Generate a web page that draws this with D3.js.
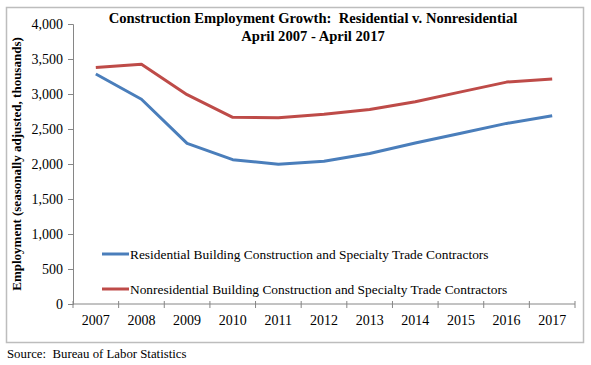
<!DOCTYPE html>
<html><head><meta charset="utf-8">
<script src="https://cdn.jsdelivr.net/npm/d3@7"></script>
<style>body{margin:0;background:#fff}svg{display:block}text{font-family:"Liberation Serif","Times New Roman",serif}</style>
</head><body><svg id="c" width="591" height="365"></svg>
<script>
const years = ["2007","2008","2009","2010","2011","2012","2013","2014","2015","2016","2017"];
const residential = [3285, 2925, 2295, 2062, 1995, 2040, 2150, 2300, 2440, 2580, 2690];
const nonresidential = [3380, 3425, 2990, 2667, 2660, 2710, 2780, 2890, 3030, 3170, 3215];
const yTicks = [0, 500, 1000, 1500, 2000, 2500, 3000, 3500, 4000];
const seriesNames = ["Residential Building Construction and Specialty Trade Contractors",
                     "Nonresidential Building Construction and Specialty Trade Contractors"];
const colors = ["#4a7ebb", "#be4b48"];

const svg = d3.select("#c");
svg.append("rect").attr("x",6.5).attr("y",7.5).attr("width",577).attr("height",335)
  .attr("fill","#fff").attr("stroke","#bdbdbd").attr("stroke-width",1.5);

const L=73, R=575, T=24, B=304;
const x = d3.scaleBand().domain(years).range([L,R]);
const y = d3.scaleLinear().domain([0,4000]).range([B,T]);

// y axis
const ya = svg.append("g").attr("transform",`translate(${L},0)`)
  .call(d3.axisLeft(y).tickValues(yTicks).tickFormat(d3.format(",")).tickSize(5).tickPadding(5));
ya.select(".domain").attr("stroke","#868686");
ya.selectAll(".tick line").attr("stroke","#868686");
ya.selectAll("text").attr("font-size",14).attr("fill","#000");

// x axis
const xa = svg.append("g").attr("transform",`translate(0,${B})`);
xa.append("line").attr("x1",L).attr("x2",R).attr("y1",0).attr("y2",0).attr("stroke","#868686");
const bounds = years.map(d=>x(d)).concat([R]);
xa.selectAll(".tk").data(bounds).enter().append("line")
  .attr("x1",d=>d).attr("x2",d=>d).attr("y1",-3).attr("y2",4).attr("stroke","#868686");
xa.selectAll(".lb").data(years).enter().append("text")
  .attr("x",d=>x(d)+x.bandwidth()/2).attr("y",21).attr("text-anchor","middle")
  .attr("font-size",14).text(d=>d);

// lines
const line = d3.line().x((d,i)=>x(years[i])+x.bandwidth()/2).y(d=>y(d));
[residential, nonresidential].forEach((s,i)=>{
  svg.append("path").datum(s).attr("d",line).attr("fill","none")
    .attr("stroke",colors[i]).attr("stroke-width",3).attr("stroke-linejoin","round");
});

// legend
const legY=[254,289];
seriesNames.forEach((n,i)=>{
  svg.append("line").attr("x1",102).attr("x2",129).attr("y1",legY[i]).attr("y2",legY[i])
    .attr("stroke",colors[i]).attr("stroke-width",3);
  svg.append("text").attr("x",130).attr("y",legY[i]+4.5).attr("font-size",13.4).text(n);
});

// title
svg.append("text").attr("x",313).attr("y",23).attr("text-anchor","middle")
  .attr("font-size",14.6).attr("font-weight","bold").attr("xml:space","preserve")
  .text("Construction Employment Growth:  Residential v. Nonresidential");
svg.append("text").attr("x",313).attr("y",41).attr("text-anchor","middle")
  .attr("font-size",14.6).attr("font-weight","bold").text("April 2007 - April 2017");

// y title
svg.append("text").attr("transform",`translate(21,164) rotate(-90)`).attr("text-anchor","middle")
  .attr("font-size",13).attr("font-weight","bold").text("Employment (seasonally adjusted, thousands)");

// source
svg.append("text").attr("x",7).attr("y",358).attr("font-size",12.8).attr("xml:space","preserve")
  .text("Source:  Bureau of Labor Statistics");
</script></body></html>
